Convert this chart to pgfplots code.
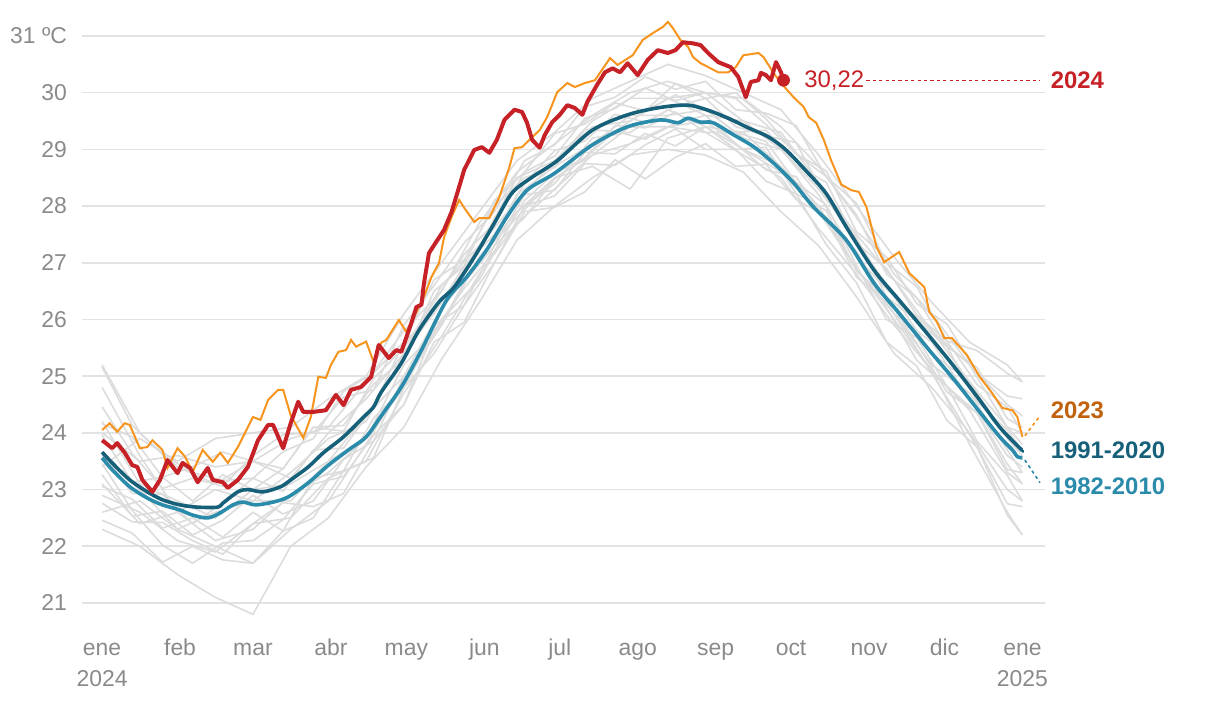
\documentclass[border=0pt]{standalone}
\usepackage{fontspec}
\setmainfont{Liberation Sans}
\usepackage{pgfplots}
\usepackage{pgfplotstable}
\pgfplotsset{compat=1.18}

\definecolor{gridc}{HTML}{E3E3E3}
\definecolor{tickc}{HTML}{8A8A8A}
\definecolor{greyc}{HTML}{DCDCDC}
\definecolor{red24}{HTML}{C62127}
\definecolor{orange23}{HTML}{F7941D}
\definecolor{lab23}{HTML}{C0620E}
\definecolor{dark91}{HTML}{17607A}
\definecolor{light82}{HTML}{2A8BAB}

% earlier years, sampled every 15 days
\pgfplotstableread{
d    A     B     C     D     E     F     G     H     I     J
0   22.3  22.9  23.1  23.6  24.2  24.8  25.2  24.0  23.4  22.6
15  22.0  22.6  22.4  23.0  23.1  23.6  24.0  23.5  23.9  22.8
30  21.5  22.1  22.6  22.3  22.8  22.6  23.4  23.6  23.5  22.3
45  21.1  21.9  22.1  22.6  22.5  23.0  23.1  23.4  23.9  22.0
60  20.8  22.4  22.3  22.8  23.0  22.8  23.5  23.5  24.0  21.7
75  22.0  22.5  22.9  22.8  23.1  23.3  23.2  23.9  24.1  22.3
90  22.5  23.2  23.3  23.5  23.5  23.9  24.0  24.1  24.6  22.8
105 23.4  23.5  23.9  23.9  24.3  24.2  24.6  24.9  25.0  23.8
120 24.1  24.7  24.8  25.2  25.0  25.4  25.4  25.8  26.1  24.9
135 25.3  25.7  26.0  25.9  26.2  26.3  26.6  26.5  27.0  25.9
150 26.3  26.8  26.7  27.1  27.0  27.3  27.3  27.7  27.9  27.1
165 27.4  27.7  27.9  27.9  28.2  28.1  28.5  28.6  28.8  27.8
180 28.0  28.3  28.5  28.4  28.7  28.8  28.8  29.1  29.3  28.5
195 28.5  28.9  28.9  29.2  29.1  29.4  29.5  29.6  29.9  28.7
210 28.9  29.1  29.4  29.3  29.6  29.5  29.9  30.0  30.2  28.3
225 29.0  29.4  29.4  29.7  29.6  29.9  29.9  30.2  30.5  29.2
240 28.9  29.3  29.5  29.4  29.7  29.6  30.0  30.0  30.3  29.4
255 28.6  28.9  29.0  29.3  29.2  29.5  29.5  29.9  30.0  29.0
270 27.9  28.5  28.7  28.7  29.0  29.0  29.3  29.4  29.7  28.6
285 27.3  27.6  28.0  27.9  28.2  28.3  28.4  28.7  28.9  27.9
300 26.4  26.8  26.9  27.2  27.1  27.4  27.5  27.8  28.0  26.9
315 25.4  25.9  26.1  26.1  26.4  26.4  26.7  26.8  27.1  26.0
330 24.8  25.1  25.2  25.6  25.4  25.8  25.8  26.1  26.3  25.1
345 24.0  24.4  24.7  24.6  24.9  24.9  25.2  25.2  25.6  23.8
360 23.0  23.3  23.7  23.6  23.9  24.1  24.1  24.5  25.2  22.6
366 22.8  23.1  23.3  23.4  23.6  23.8  24.0  24.3  24.9  22.2
}\greys

% more earlier years, sampled every 12 days
\pgfplotstableread{
d    K      L      M      N      O      P      Q      R      S      T
0   23.06  23.96  22.46  23.66  24.46  23.26  23.46  24.16  25.16  22.76
12  22.83  23.13  22.23  22.93  23.63  22.53  22.63  23.93  24.13  22.43
24  22.32  23.22  21.72  22.92  23.02  22.62  22.02  23.22  23.62  22.42
36  22.50  22.80  22.00  22.40  23.20  22.20  21.70  23.40  23.30  22.10
48  22.16  23.26  21.76  22.76  23.06  22.46  22.06  23.66  23.16  21.86
60  22.60  23.00  21.70  23.20  23.60  22.90  22.10  23.50  23.20  22.40
72  22.27  23.37  22.27  22.97  23.97  22.57  22.47  23.37  23.67  22.77
84  23.20  24.10  22.50  23.70  24.00  22.80  23.10  24.10  23.90  22.70
96  23.33  24.13  23.33  23.73  24.63  23.53  23.23  24.03  24.73  22.93
108 24.26  24.86  23.56  24.46  24.76  23.86  23.96  24.96  25.06  23.86
120 24.80  25.30  24.80  25.60  25.90  25.00  24.50  25.50  25.60  24.50
132 25.90  26.50  25.40  26.10  26.60  25.70  25.60  26.30  26.70  25.80
144 26.25  26.95  26.25  26.95  27.35  26.65  25.95  27.15  27.05  26.55
156 27.30  28.10  27.00  27.50  27.90  27.30  27.00  27.70  28.00  27.20
168 28.20  28.60  28.00  28.40  28.80  27.80  27.90  28.60  28.50  28.10
180 28.28  29.28  28.18  28.98  29.08  28.48  27.98  28.88  28.68  28.58
192 28.95  29.45  28.75  29.15  29.75  28.85  28.25  29.55  29.35  28.85
204 28.92  29.82  28.72  29.62  29.92  29.32  28.82  29.72  29.32  29.42
216 29.28  29.68  29.08  29.48  30.28  29.18  28.48  30.08  29.68  29.38
228 29.06  30.16  29.36  29.76  30.06  29.46  28.86  29.86  29.96  29.66
240 29.40  29.90  29.00  29.90  30.20  29.60  29.10  30.00  29.70  29.30
252 29.00  30.00  29.00  29.40  29.70  29.10  28.70  29.90  29.30  29.30
264 29.04  29.54  28.44  29.24  29.64  28.64  28.74  29.44  29.34  29.14
276 28.22  28.92  28.22  29.12  29.42  28.52  28.12  28.92  28.72  28.42
288 27.92  28.62  27.32  28.12  28.52  27.72  27.82  28.52  28.42  28.02
300 26.85  27.55  26.65  27.45  28.05  27.15  26.75  27.85  27.35  26.95
312 26.40  27.10  25.60  26.40  27.00  26.20  26.30  26.80  26.90  26.00
324 25.58  26.28  25.18  25.98  26.58  25.28  25.48  26.38  26.08  25.68
336 24.72  25.92  24.22  25.52  25.62  24.82  24.62  25.52  25.62  24.82
348 24.35  25.05  23.75  24.55  25.45  24.35  23.75  25.15  24.85  23.85
360 23.45  24.65  22.75  24.05  25.05  23.35  22.55  24.25  24.45  23.25
366 23.10  24.60  22.70  23.70  24.90  23.30  22.20  24.10  24.00  22.80
}\greysb

\begin{document}
\begin{tikzpicture}
\begin{axis}[
  scale only axis,
  width=481.5bp, height=302bp,
  xmin=-8, xmax=375, ymin=20.594, ymax=31.247,
  clip=false,
  axis line style={draw=none},
  major tick length=0pt,
  ymajorgrids, grid style={gridc, line width=0.8bp},
  ytick={21,22,...,31},
  yticklabels={21,22,23,24,25,26,27,28,29,30,31 ºC},
  xtick={0,31,60,91,121,152,182,213,244,274,305,335,366},
  xticklabels={ene,feb,mar,abr,may,jun,jul,ago,sep,oct,nov,dic,ene},
  /pgf/number format/assume math mode=true,
  tick label style={font=\fontsize{11.5}{13}\selectfont, text=tickc},
  yticklabel style={anchor=east, xshift=-4bp},
  xticklabel style={anchor=base, yshift=-14.5bp},
]
\pgfplotsinvokeforeach{A,B,C,D,E,F,G,H,I,J}{
  \addplot[greyc, line width=0.8bp] table[x=d, y=#1]{\greys};
}
\pgfplotsinvokeforeach{K,L,M,N,O,P,Q,R,S,T}{
  \addplot[greyc, line width=0.8bp] table[x=d, y=#1]{\greysb};
}

% 1982-2010
\addplot[light82, line width=1.8bp, smooth] coordinates {
(0,23.56)(4,23.35)(11,23.05)(18,22.85)(24,22.73)(31,22.64)(36,22.55)(42,22.50)
(47,22.59)(52,22.73)(56,22.78)(61,22.73)(68,22.78)(74,22.87)(82,23.12)(90,23.43)
(98,23.70)(105,23.93)(111,24.30)(119,24.81)(127,25.46)(137,26.34)(145,26.75)
(153,27.23)(161,27.81)(169,28.28)(180,28.58)(195,29.08)(209,29.40)(222,29.52)
(229,29.47)(233,29.55)(238,29.48)(243,29.47)(251,29.26)(259,29.05)(267,28.76)
(275,28.41)(283,27.98)(296,27.40)(307,26.64)(317,26.11)(328,25.51)(339,24.93)
(349,24.37)(357,23.93)(362,23.70)(364,23.58)(366,23.56)};

% 1991-2020
\addplot[dark91, line width=1.8bp, smooth] coordinates {
(0,23.66)(4,23.47)(11,23.17)(18,22.96)(24,22.82)(31,22.73)(38,22.69)(46,22.69)
(48,22.76)(54,22.96)(58,23.00)(64,22.96)(71,23.05)(75,23.17)(82,23.40)(88,23.65)
(96,23.93)(104,24.28)(108,24.46)(111,24.72)(119,25.23)(126,25.81)(134,26.31)
(140,26.57)(148,27.10)(156,27.70)(163,28.23)(171,28.51)(181,28.80)(195,29.34)
(209,29.61)(222,29.74)(233,29.78)(241,29.69)(249,29.55)(257,29.38)(265,29.22)
(272,28.99)(280,28.62)(288,28.22)(296,27.63)(307,26.87)(317,26.34)(328,25.76)
(339,25.16)(349,24.58)(357,24.10)(365,23.73)(366,23.70)};

% 2023
\addplot[orange23, line width=1bp] coordinates {
(0,24.05)(3,24.17)(6,24.02)(9,24.17)(11,24.14)(15,23.73)(18,23.75)(20,23.87)
(24,23.70)(26,23.38)(30,23.73)(33,23.58)(36,23.31)(40,23.70)(44,23.49)(47,23.65)
(50,23.47)(54,23.75)(60,24.28)(63,24.23)(66,24.58)(70,24.76)(72,24.76)(75,24.31)
(80,23.91)(83,24.28)(86,24.99)(89,24.97)(91,25.20)(94,25.43)(97,25.46)(99,25.64)
(101,25.52)(105,25.61)(108,25.25)(111,25.59)(113,25.64)(118,25.99)(121,25.78)
(124,26.04)(128,26.40)(131,26.75)(134,27.00)(136,27.45)(139,27.81)(142,28.11)
(144,27.97)(148,27.72)(150,27.79)(154,27.79)(158,28.16)(162,28.69)(164,29.02)
(167,29.04)(170,29.17)(174,29.34)(177,29.57)(181,30.01)(185,30.17)(188,30.10)
(192,30.17)(196,30.22)(202,30.61)(205,30.49)(211,30.66)(215,30.93)(219,31.05)
(223,31.16)(225,31.25)(227,31.14)(230,30.93)(233,30.81)(235,30.63)(238,30.52)
(242,30.43)(245,30.36)(249,30.36)(252,30.45)(255,30.66)(261,30.70)(263,30.63)
(267,30.35)(270,30.17)(275,29.92)(279,29.75)(281,29.57)(284,29.47)(287,29.17)
(290,28.80)(294,28.38)(298,28.28)(301,28.25)(304,27.98)(308,27.28)(311,27.01)
(317,27.19)(321,26.82)(327,26.57)(329,26.13)(332,25.96)(335,25.67)(338,25.67)
(344,25.37)(349,24.99)(354,24.70)(358,24.44)(362,24.40)(364,24.28)(366,23.93)};

% 2024
\addplot[red24, line width=2bp, line join=round] coordinates {
(0,23.87)(4,23.73)(6,23.82)(9,23.65)(12,23.43)(14,23.40)(16,23.17)(20,22.96)
(23,23.17)(26,23.52)(30,23.29)(32,23.47)(35,23.38)(38,23.13)(42,23.38)(44,23.17)
(48,23.13)(50,23.03)(54,23.17)(58,23.40)(62,23.87)(66,24.14)(68,24.14)(72,23.73)
(75,24.17)(78,24.55)(80,24.37)(84,24.37)(89,24.40)(93,24.67)(96,24.49)(99,24.76)
(103,24.81)(107,24.99)(110,25.55)(114,25.32)(117,25.46)(119,25.43)(123,25.94)
(125,26.22)(127,26.26)(128,26.64)(130,27.17)(132,27.31)(136,27.58)(139,27.90)
(142,28.34)(144,28.64)(148,28.99)(151,29.04)(154,28.94)(157,29.17)(160,29.52)
(164,29.70)(167,29.66)(169,29.47)(171,29.17)(174,29.03)(176,29.25)(179,29.48)
(182,29.61)(185,29.78)(188,29.73)(191,29.61)(193,29.84)(197,30.15)(200,30.36)
(203,30.43)(206,30.36)(209,30.52)(213,30.31)(217,30.58)(221,30.75)(225,30.70)
(228,30.75)(231,30.89)(235,30.87)(238,30.84)(241,30.70)(245,30.54)(250,30.45)
(253,30.28)(256,29.92)(258,30.19)(261,30.22)(262,30.35)(264,30.31)(266,30.22)
(268,30.54)(270,30.36)(271,30.22)};
\addplot[red24, only marks, mark=*, mark size=3bp] coordinates {(271,30.22)};

% labels
\node[anchor=west, text=red24, font=\fontsize{12}{14}\selectfont] at (axis cs:276.5,30.22) {30,22};
\draw[red24, line width=0.6bp, dash pattern=on 1.6bp off 1.6bp] (axis cs:304,30.22) -- (axis cs:373,30.22);
\node[anchor=west, text=red24, font=\bfseries\fontsize{12}{14}\selectfont] at (axis cs:374.5,30.22) {2024};
\draw[orange23, line width=0.8bp, dash pattern=on 1.6bp off 1.6bp] (axis cs:367,23.95) -- (axis cs:373,24.3);
\node[anchor=west, text=lab23, font=\bfseries\fontsize{12}{14}\selectfont] at (axis cs:374.5,24.39) {2023};
\node[anchor=west, text=dark91, font=\bfseries\fontsize{12}{14}\selectfont] at (axis cs:374.5,23.70) {1991-2020};
\draw[light82, line width=0.8bp, dash pattern=on 1.6bp off 1.6bp] (axis cs:367,23.52) -- (axis cs:373,23.12);
\node[anchor=west, text=light82, font=\bfseries\fontsize{12}{14}\selectfont] at (axis cs:374.5,23.06) {1982-2010};
\node[anchor=base, text=tickc, font=\fontsize{11.5}{13}\selectfont] at ([yshift=-30bp]axis cs:0,20.594) {2024};
\node[anchor=base, text=tickc, font=\fontsize{11.5}{13}\selectfont] at ([yshift=-30bp]axis cs:366,20.594) {2025};
\end{axis}
\pgfresetboundingbox
\path[use as bounding box] (-41bp,-38bp) rectangle (569bp,313bp);
\end{tikzpicture}
\end{document}
